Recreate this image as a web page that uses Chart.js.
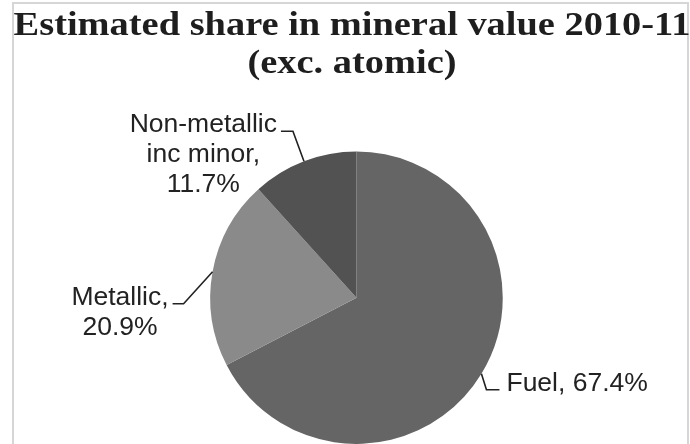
<!DOCTYPE html>
<html>
<head>
<meta charset="utf-8">
<script src="https://cdn.jsdelivr.net/npm/chart.js@4/dist/chart.umd.min.js"></script>
<style>
  html, body { margin: 0; padding: 0; background: #ffffff; }
  #wrap { width: 690px; height: 444px; position: relative; }
</style>
</head>
<body>
<div id="wrap"><canvas id="c" width="690" height="444"></canvas></div>
<script>
// ---- data ----
const categories = ["Fuel", "Metallic", "Non-metallic inc minor"];
const shares = [67.4, 20.9, 11.7];
const labelNameLines = [["Fuel"], ["Metallic"], ["Non-metallic", "inc minor"]];
const valueOnSameLine = [true, false, false];
const titleLines = ["Estimated share in mineral value 2010-11", "(exc. atomic)"];

// ---- styles / layout ----
const sliceColors = ["#656565", "#8a8a8a", "#525252"];
// leader: elbow offset from arc edge point, then horizontal run; side = text side
const leaderLayout = [
  { elbow: [5, 16], run: 13, side: "right" },
  { elbow: [-29, 32], run: -11, side: "left" },
  { elbow: [-11, -30], run: -12, side: "left" }
];
const titleStyle = { size: 33, stretch: 1.164, centerX: 352, baselines: [35, 73], color: "#1e1e1e" };

function buildLabel(i) {
  const lines = labelNameLines[i].slice();
  lines[lines.length - 1] += ",";
  const v = shares[i].toFixed(1) + "%";
  if (valueOnSameLine[i]) lines[lines.length - 1] += " " + v;
  else lines.push(v);
  return lines;
}

const frame = {
  id: "frame",
  beforeDraw(chart) {
    const ctx = chart.ctx;
    ctx.save();
    ctx.fillStyle = "#ffffff";
    ctx.fillRect(0, 0, chart.width, chart.height);
    ctx.strokeStyle = "#d6d6d6";
    ctx.lineWidth = 2;
    ctx.strokeRect(13, 3, 675, 460);
    ctx.restore();
  },
  afterDraw(chart) {
    const ctx = chart.ctx;
    ctx.save();
    ctx.font = "bold " + titleStyle.size + "px 'Liberation Serif', 'Times New Roman', serif";
    ctx.fillStyle = titleStyle.color;
    ctx.textAlign = "center";
    ctx.textBaseline = "alphabetic";
    titleLines.forEach((t, k) => {
      ctx.save();
      ctx.translate(titleStyle.centerX, titleStyle.baselines[k]);
      ctx.scale(titleStyle.stretch, 1);
      ctx.fillText(t, 0, 0);
      ctx.restore();
    });
    ctx.restore();
  }
};

const leaderLabels = {
  id: "leaderLabels",
  afterDatasetsDraw(chart) {
    const ctx = chart.ctx;
    const meta = chart.getDatasetMeta(0);
    ctx.save();
    ctx.font = "26.5px 'Liberation Sans', Arial, sans-serif";
    ctx.fillStyle = "#222222";
    ctx.strokeStyle = "#222222";
    ctx.lineWidth = 1.6;
    ctx.textBaseline = "alphabetic";
    meta.data.forEach((arc, i) => {
      const p = arc.getProps(["x", "y", "startAngle", "endAngle", "outerRadius"], true);
      const mid = (p.startAngle + p.endAngle) / 2;
      const ax = p.x + Math.cos(mid) * p.outerRadius;
      const ay = p.y + Math.sin(mid) * p.outerRadius;
      const L = leaderLayout[i];
      const ex = ax + L.elbow[0], ey = ay + L.elbow[1];
      const hx = ex + L.run;
      ctx.beginPath();
      ctx.moveTo(ax, ay);
      ctx.lineTo(ex, ey);
      ctx.lineTo(hx, ey);
      ctx.stroke();
      const lines = buildLabel(i);
      const lh = 30;
      if (L.side === "right") {
        ctx.textAlign = "left";
        lines.forEach((t, k) => ctx.fillText(t, hx + 7, ey + 1 + k * lh));
      } else {
        const w0 = ctx.measureText(lines[0]).width;
        const cx = hx - 4 - w0 / 2;
        ctx.textAlign = "center";
        lines.forEach((t, k) => ctx.fillText(t, cx, ey + 1 + k * lh));
      }
    });
    ctx.restore();
  }
};

new Chart(document.getElementById("c"), {
  type: "pie",
  data: {
    labels: categories,
    datasets: [{
      data: shares,
      backgroundColor: sliceColors,
      borderWidth: 0,
      hoverOffset: 0
    }]
  },
  options: {
    responsive: false,
    animation: false,
    events: [],
    layout: { padding: { top: 151.5, bottom: 0, left: 23, right: 0 } },
    plugins: {
      legend: { display: false },
      tooltip: { enabled: false },
      title: { display: false }
    }
  },
  plugins: [frame, leaderLabels]
});
</script>
</body>
</html>
